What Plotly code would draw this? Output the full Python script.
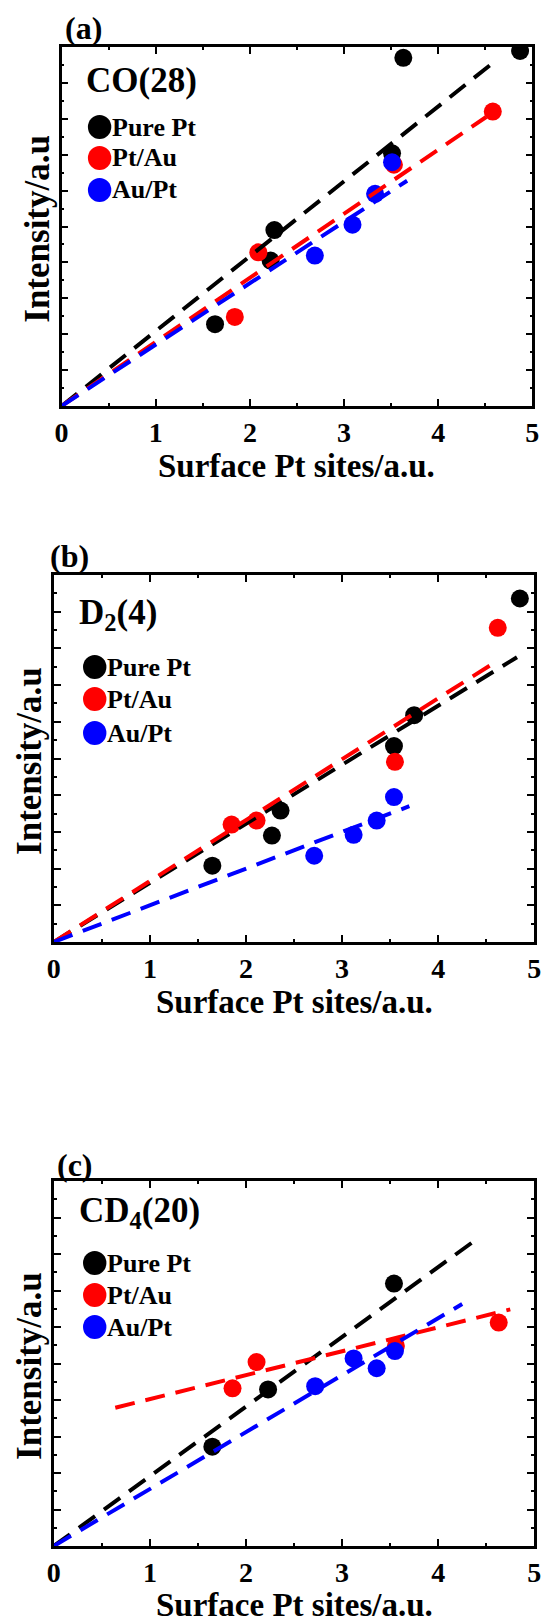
import numpy as np
import plotly.graph_objects as go

W, H = 552, 1623
FONT = "Liberation Serif"

series_names = ["Pure Pt", "Pt/Au", "Au/Pt"]
series_colors = ["#000000", "#ff0000", "#0000ff"]

# ---- panel (a): CO(28) ----
a_pt_x = [1.63, 2.22, 2.26, 3.51, 3.63, 4.87]
a_pt_y = [2.28, 4.05, 4.90, 7.04, 9.70, 9.89]
a_ptau_x = [1.84, 2.09, 3.53, 4.58]
a_ptau_y = [2.48, 4.28, 6.72, 8.20]
a_aupt_x = [2.69, 3.09, 3.33, 3.51]
a_aupt_y = [4.19, 5.05, 5.91, 6.79]
# linear fits: slope, intercept, x start, x end
a_fit_slope = [2.086, 1.785, 1.71]
a_fit_icpt = [0.0, 0.0, 0.0]
a_fit_x0 = [0.0, 0.0, 0.0]
a_fit_x1 = [4.55, 4.51, 3.67]

# ---- panel (b): D2(4) ----
b_pt_x = [1.65, 2.27, 2.36, 3.54, 3.75, 4.85]
b_pt_y = [2.08, 2.90, 3.58, 5.34, 6.18, 9.36]
b_ptau_x = [1.85, 2.11, 3.55, 4.62]
b_ptau_y = [3.20, 3.31, 4.91, 8.56]
b_aupt_x = [2.71, 3.12, 3.36, 3.54]
b_aupt_y = [2.35, 2.92, 3.31, 3.95]
b_fit_slope = [1.61, 1.66, 1.0]
b_fit_icpt = [0.0, 0.0, 0.0]
b_fit_x0 = [0.0, 0.0, 0.0]
b_fit_x1 = [4.82, 4.57, 3.70]

# ---- panel (c): CD4(20) ----
c_pt_x = [1.65, 2.23, 3.54]
c_pt_y = [2.72, 4.29, 7.19]
c_ptau_x = [1.86, 2.11, 3.56, 4.63]
c_ptau_y = [4.32, 5.04, 5.48, 6.12]
c_aupt_x = [2.72, 3.12, 3.36, 3.55]
c_aupt_y = [4.38, 5.14, 4.87, 5.34]
c_fit_slope = [1.91, 0.655, 1.56]
c_fit_icpt = [0.0, 3.37, 0.0]
c_fit_x0 = [0.0, 0.64, 0.0]
c_fit_x1 = [4.43, 4.75, 4.25]

x_tick_vals = [0, 1, 2, 3, 4, 5]
x_tick_text = ["0", "1", "2", "3", "4", "5"]

panels = [
    dict(tag="(a)", species="CO(28)",
         pts=[(a_pt_x, a_pt_y), (a_ptau_x, a_ptau_y), (a_aupt_x, a_aupt_y)],
         fit=(a_fit_slope, a_fit_icpt, a_fit_x0, a_fit_x1),
         box=(56, 539, 47, 406), tag_xy=(78, 28), sp_xy=(79, 80),
         leg_x=95, leg_y=[127, 158, 190], ytitle_x=31, xtitle_y=466),
    dict(tag="(b)", species="D<sub>2</sub>(4)",
         pts=[(b_pt_x, b_pt_y), (b_ptau_x, b_ptau_y), (b_aupt_x, b_aupt_y)],
         fit=(b_fit_slope, b_fit_icpt, b_fit_x0, b_fit_x1),
         box=(48, 541, 575, 942), tag_xy=(64, 556), sp_xy=(72, 614),
         leg_x=90, leg_y=[667, 699, 733], ytitle_x=23, xtitle_y=1002),
    dict(tag="(c)", species="CD<sub>4</sub>(20)",
         pts=[(c_pt_x, c_pt_y), (c_ptau_x, c_ptau_y), (c_aupt_x, c_aupt_y)],
         fit=(c_fit_slope, c_fit_icpt, c_fit_x0, c_fit_x1),
         box=(48, 541, 1181, 1546), tag_xy=(70, 1165), sp_xy=(72, 1212),
         leg_x=90, leg_y=[1263, 1295, 1327], ytitle_x=23, xtitle_y=1605),
]


def fx(px):
    return px / W


def fy(py):
    return 1 - py / H


fig = go.Figure()
annotations = []
shapes = []

for i, p in enumerate(panels):
    n = "" if i == 0 else str(i + 1)
    xa, ya = "x" + n, "y" + n
    x0, x1, y0, y1 = p["box"]

    # scatter points
    for (xs, ys), name, col in zip(p["pts"], series_names, series_colors):
        fig.add_trace(go.Scatter(x=xs, y=ys, mode="markers", name=name,
                                 marker=dict(color=col, size=18, line=dict(width=0)),
                                 xaxis=xa, yaxis=ya, showlegend=False))
    # dashed fit lines
    slopes, icpts, xs0, xs1 = p["fit"]
    for k, col in enumerate(series_colors):
        lx = np.array([xs0[k], xs1[k]])
        ly = slopes[k] * lx + icpts[k]
        fig.add_trace(go.Scatter(x=lx, y=ly, mode="lines",
                                 line=dict(color=col, width=4, dash="20px,11px"),
                                 xaxis=xa, yaxis=ya, showlegend=False, hoverinfo="skip"))

    axis_common = dict(showline=True, linewidth=2.6, linecolor="black", mirror="ticks",
                       ticks="inside", ticklen=7, tickwidth=2, tickcolor="black",
                       showgrid=False, zeroline=False)
    fig.layout["xaxis" + n] = dict(
        domain=[fx(x0), fx(x1)], range=[0, 5], anchor=ya,
        tickvals=x_tick_vals, ticktext=x_tick_text,
        tickfont=dict(family=FONT, size=28, color="black", weight="bold"),
        minor=dict(ticks="inside", ticklen=3, tickwidth=1.5, dtick=0.5, tickcolor="black"),
        **axis_common)
    fig.layout["yaxis" + n] = dict(
        domain=[fy(y1), fy(y0)], range=[0, 10], anchor=xa,
        dtick=1, showticklabels=False,
        minor=dict(ticks="inside", ticklen=3, tickwidth=1.5, dtick=0.5, tickcolor="black"),
        **axis_common)

    # panel tag and species label
    annotations.append(dict(text="<b>%s</b>" % p["tag"], x=fx(p["tag_xy"][0]), y=fy(p["tag_xy"][1]),
                            xref="paper", yref="paper", showarrow=False,
                            xanchor="center", yanchor="middle",
                            font=dict(family=FONT, size=32, color="black")))
    annotations.append(dict(text="<b>%s</b>" % p["species"], x=fx(p["sp_xy"][0]), y=fy(p["sp_xy"][1]),
                            xref="paper", yref="paper", showarrow=False,
                            xanchor="left", yanchor="middle",
                            font=dict(family=FONT, size=35, color="black")))
    # legend entries
    r = 12
    for name, col, ly in zip(series_names, series_colors, p["leg_y"]):
        shapes.append(dict(type="circle", xref="paper", yref="paper",
                           x0=fx(p["leg_x"] - r), x1=fx(p["leg_x"] + r),
                           y0=fy(ly + r), y1=fy(ly - r),
                           fillcolor=col, line=dict(width=0)))
        annotations.append(dict(text="<b>%s</b>" % name, x=fx(p["leg_x"] + 11), y=fy(ly),
                                xref="paper", yref="paper", showarrow=False,
                                xanchor="left", yanchor="middle",
                                font=dict(family=FONT, size=26, color="black")))
    # axis titles
    annotations.append(dict(text="<b>Intensity/a.u</b>", x=fx(p["ytitle_x"]), y=fy((y0 + y1) / 2 + 2),
                            xref="paper", yref="paper", showarrow=False, textangle=-90,
                            xanchor="center", yanchor="middle",
                            font=dict(family=FONT, size=35, color="black")))
    annotations.append(dict(text="<b>Surface Pt sites/a.u.</b>", x=fx((x0 + x1) / 2), y=fy(p["xtitle_y"]),
                            xref="paper", yref="paper", showarrow=False,
                            xanchor="center", yanchor="middle",
                            font=dict(family=FONT, size=33, color="black")))

fig.update_layout(width=W, height=H, margin=dict(l=0, r=0, t=0, b=0),
                  paper_bgcolor="white", plot_bgcolor="white",
                  annotations=annotations, shapes=shapes, showlegend=False)

fig.write_html("out.html")
